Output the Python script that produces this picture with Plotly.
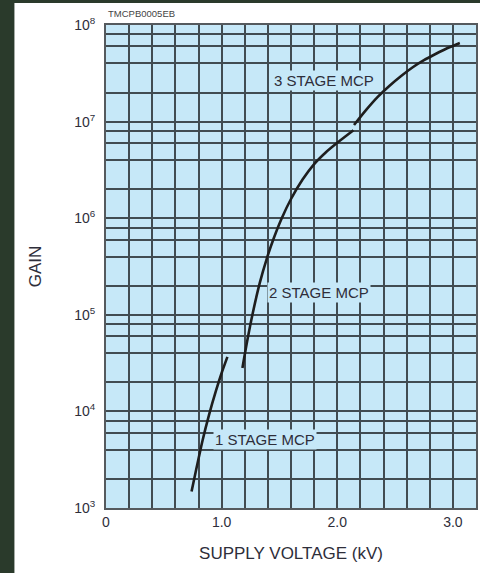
import plotly.graph_objects as go

# Data (supply voltage kV vs gain)
stage1_v = [0.74, 0.78, 0.835, 0.89, 0.95, 1.00, 1.05]
stage1_g = [1.48e3, 2.5e3, 5.0e3, 9.1e3, 1.62e4, 2.5e4, 3.67e4]

stage2_v = [1.18, 1.22, 1.27, 1.33, 1.39, 1.45, 1.52, 1.60, 1.70, 1.80, 1.90, 2.00, 2.14]
stage2_g = [2.82e4, 5.25e4, 1.05e5, 2.14e5, 3.8e5, 6.17e5, 1.0e6, 1.58e6, 2.51e6,
            3.63e6, 4.79e6, 6.03e6, 8.13e6]

stage3_v = [2.145, 2.25, 2.35, 2.45, 2.55, 2.65, 2.75, 2.85, 2.95, 3.06]
stage3_g = [9.23e6, 1.32e7, 1.80e7, 2.34e7, 2.95e7, 3.63e7, 4.32e7, 5.01e7, 5.75e7, 6.52e7]

x_tickvals = [0, 1, 2, 3]
x_ticktext = ["0", "1.0", "2.0", "3.0"]
y_tickvals = [1e3, 1e4, 1e5, 1e6, 1e7, 1e8]
y_ticktext = ["10<sup>3</sup>", "10<sup>4</sup>", "10<sup>5</sup>",
              "10<sup>6</sup>", "10<sup>7</sup>", "10<sup>8</sup>"]
y_minor = [m * 10 ** d for d in range(3, 8) for m in (2, 4, 6, 8)]
x_minor = [round(0.2 * i, 1) for i in range(0, 17)]

labels = ["1 STAGE MCP", "2 STAGE MCP", "3 STAGE MCP"]
label_x = [1.376, 1.84, 1.884]
label_y = [3.714, 5.236, 7.43]

PLOT_BG = "#c6e8f8"
GRID = "#414c52"
TXT = "#2e2e3a"
FONT = "Liberation Sans, Arial, sans-serif"

fig = go.Figure()
for v, g in [(stage1_v, stage1_g), (stage2_v, stage2_g), (stage3_v, stage3_g)]:
    fig.add_trace(go.Scatter(x=v, y=g, mode="lines",
                             line=dict(color="#1e1e1e", width=2.6, shape="spline", smoothing=0.6),
                             showlegend=False, hoverinfo="skip"))

for t, x, y in zip(labels, label_x, label_y):
    fig.add_annotation(x=x, y=y, xref="x", yref="y", text=t, showarrow=False,
                       font=dict(family=FONT, size=15, color=TXT),
                       bgcolor=PLOT_BG, borderpad=1)

fig.add_annotation(x=0, y=1.0248, xref="paper", yref="paper", text="TMCPB0005EB",
                   showarrow=False, xanchor="left", yanchor="middle",
                   font=dict(family=FONT, size=9.5, color="#444444"))

# dark slide frame at left and top
fig.add_shape(type="rect", xref="paper", yref="paper", x0=-0.30, x1=-0.2475, y0=-0.2, y1=1.06,
              fillcolor="#2a3a2b", line=dict(width=0), layer="above")
fig.add_shape(type="rect", xref="paper", yref="paper", x0=-0.30, x1=1.05, y0=1.0455, y1=1.06,
              fillcolor="#2a3a2b", line=dict(width=0), layer="above")

fig.update_layout(
    width=480, height=573,
    margin=dict(l=106, r=2, t=25, b=65),
    paper_bgcolor="white", plot_bgcolor=PLOT_BG,
    font=dict(family=FONT, color=TXT),
    xaxis=dict(range=[0, 3.2], tickmode="array", tickvals=x_tickvals, ticktext=x_ticktext,
               showgrid=True, gridcolor=GRID, gridwidth=2,
               minor=dict(tickmode="array", tickvals=x_minor, showgrid=True,
                          gridcolor=GRID, gridwidth=2, ticklen=0),
               showline=True, linecolor="#555a5e", linewidth=2, mirror=True,
               ticks="", tickfont=dict(size=14, color=TXT), zeroline=False,
               title=dict(text="SUPPLY VOLTAGE (kV)", font=dict(size=17, color=TXT), standoff=18)),
    yaxis=dict(type="log", range=[3, 8], tickmode="array", tickvals=y_tickvals, ticktext=y_ticktext,
               showgrid=True, gridcolor=GRID, gridwidth=2,
               minor=dict(tickmode="array", tickvals=y_minor, showgrid=True,
                          gridcolor=GRID, gridwidth=2, ticklen=0),
               showline=True, linecolor="#555a5e", linewidth=2, mirror=True,
               ticks="", ticklabelstandoff=6, tickfont=dict(size=14, color=TXT), zeroline=False,
               title=dict(text="GAIN", font=dict(size=17, color=TXT), standoff=28)),
)

fig.write_html("out.html")
